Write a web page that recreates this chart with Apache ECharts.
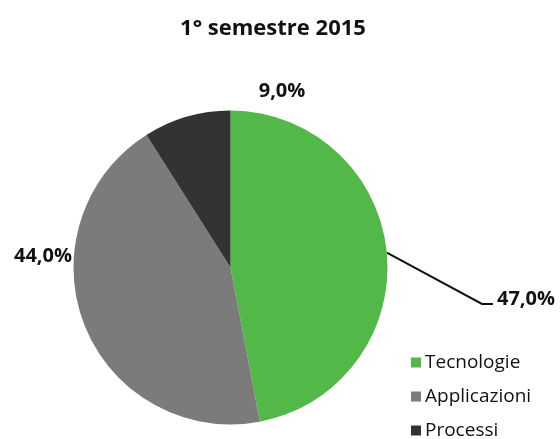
<!DOCTYPE html>
<html lang="it">
<head>
  <meta charset="UTF-8">
  <title>1° semestre 2015</title>
  <script src="https://cdn.jsdelivr.net/npm/echarts@6/dist/echarts.min.js"></script>
</head>
<body style="margin:0">
  <div id="main" style="width:560px;height:439px;"></div>
  <script>
    // dati
    var categories = ['Tecnologie', 'Applicazioni', 'Processi'];
    var values = [47.0, 44.0, 9.0];
    var colors = ['#52b848', '#7b7b7b', '#333333'];

    // posizione delle etichette (come nel grafico originale)
    var labelPos = [
      { x: 497, y: 299, align: 'left' },
      { x: 72, y: 256, align: 'right' },
      { x: 282, y: 91, align: 'center' }
    ];

    var myChart = echarts.init(document.getElementById('main'));

    var option = {
      backgroundColor: '#fff',
      title: {
        text: '1° semestre 2015',
        left: 268,
        top: 13,
        textAlign: 'center',
        textStyle: { fontFamily: 'Open Sans', fontWeight: 'bold', fontSize: 22, color: '#111' }
      },
      legend: {
        orient: 'vertical',
        left: 411,
        top: 353,
        height: 130,
        padding: 0,
        itemWidth: 10,
        itemHeight: 10,
        itemGap: 15,
        icon: 'rect',
        textStyle: { fontFamily: 'Open Sans', fontSize: 19, lineHeight: 18, color: '#111', padding: [0, 0, 0, -1] },
        data: categories
      },
      series: [{
        type: 'pie',
        center: [230.5, 267.5],
        radius: 157,
        startAngle: 90,
        clockwise: true,
        avoidLabelOverlap: false,
        animation: false,
        label: {
          show: true,
          position: 'outside',
          fontFamily: 'Open Sans',
          fontWeight: 'bold',
          fontSize: 20,
          color: '#111',
          formatter: function (p) { return p.value.toFixed(1).replace('.', ',') + '%'; }
        },
        labelLine: { show: true, lineStyle: { color: '#111', width: 2 } },
        labelLayout: function (p) {
          var pos = labelPos[p.dataIndex];
          var res = { x: pos.x, y: pos.y, align: pos.align, verticalAlign: 'middle' };
          if (p.dataIndex === 0 && p.labelLinePoints) {
            res.labelLinePoints = [p.labelLinePoints[0], [pos.x - 15, pos.y + 5], [pos.x - 4, pos.y + 5]];
          }
          return res;
        },
        data: categories.map(function (c, i) {
          return {
            name: c,
            value: values[i],
            itemStyle: { color: colors[i] },
            labelLine: { show: i === 0 }
          };
        })
      }]
    };

    myChart.setOption(option);
  </script>
</body>
</html>
